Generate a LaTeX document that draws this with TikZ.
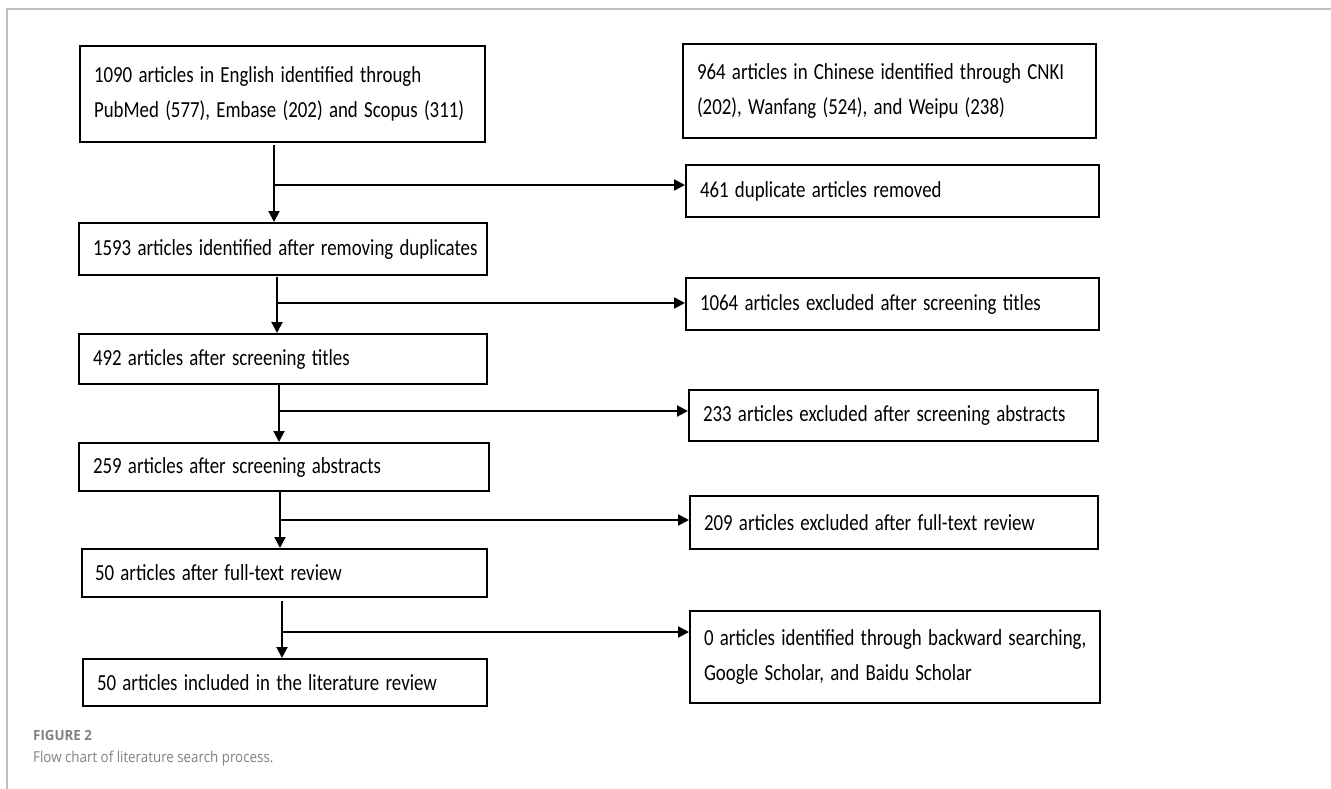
\documentclass[tikz,border=0pt]{standalone}
\usepackage{fontspec}
\setmainfont{Carlito}
\newfontfamily\capfont{Open Sans}
\newcommand{\sq}[1]{\scalebox{0.82}[1]{#1}}
\usetikzlibrary{arrows.meta,calc}
\tikzset{
  box/.style={draw=black, line width=2pt, anchor=north west, inner ysep=0pt,
    inner xsep=14pt, align=left, font=\fontsize{23}{35}\selectfont},
  arr/.style={line width=2pt, -{Triangle[length=11pt,width=11pt]}},
  frame/.style={draw=black!25, line width=1.2pt},
  capt/.style={anchor=west, inner sep=0pt, text=black!50}
}
\begin{document}
\begin{tikzpicture}[x=1pt,y=-1pt]
\useasboundingbox (0,0) rectangle (1331,789);
\draw[frame] (7,789) -- (7,9) -- (1331,9);
% main column
\node[box, text width=377pt, minimum height=96pt] (A) at (79,45)
  {\sq{1090 articles in English identified through}\\\sq{PubMed (577), Embase (202) and Scopus (311)}};
\node[box, text width=385pt, minimum height=94pt] (B) at (682,43)
  {\sq{964 articles in Chinese identified through CNKI}\\\sq{(202), Wanfang (524), and Weipu (238)}};
\node[box, text width=380pt, minimum height=52pt] (B2) at (78,222)
  {\sq{1593 articles identified after removing duplicates}};
\node[box, text width=380pt, minimum height=50pt] (B3) at (78,333)
  {\sq{492 articles after screening titles}};
\node[box, text width=382pt, minimum height=48pt] (B4) at (78,442)
  {\sq{259 articles after screening abstracts}};
\node[box, text width=379pt, minimum height=48pt, inner xsep=13pt] (B5) at (81,548)
  {\sq{50 articles after full-text review}};
\node[box, text width=376pt, minimum height=47pt] (B6) at (82,658)
  {\sq{50 articles included in the literature review}};
% side column
\node[box, text width=385pt, minimum height=52pt] (D1) at (685,164)
  {\sq{461 duplicate articles removed}};
\node[box, text width=385pt, minimum height=52pt] (D2) at (685,277)
  {\sq{1064 articles excluded after screening titles}};
\node[box, text width=381pt, minimum height=51pt] (D3) at (688,389)
  {\sq{233 articles excluded after screening abstracts}};
\node[box, text width=380pt, minimum height=53pt] (D4) at (689,495)
  {\sq{209 articles excluded after full-text review}};
\node[box, text width=382pt, minimum height=92pt] (D5) at (689,610)
  {\sq{0 articles identified through backward searching,}\\\sq{Google Scholar, and Baidu Scholar}};
% connectors
\coordinate (j1) at (274,185);
\coordinate (j2) at (277,303);
\coordinate (j3) at (279,411);
\coordinate (j4) at (280,520);
\coordinate (j5) at (282,632);
\draw[arr] ($(j1 |- A.south)+(0,2)$) -- (j1 |- B2.north);
\draw[arr] (j1) -- (j1 -| D1.west);
\draw[arr] ($(j2 |- B2.south)+(0,1)$) -- (j2 |- B3.north);
\draw[arr] (j2) -- (j2 -| D2.west);
\draw[arr] (j3 |- B3.south) -- (j3 |- B4.north);
\draw[arr] (j3) -- (j3 -| D3.west);
\draw[arr] (j4 |- B4.south) -- (j4 |- B5.north);
\draw[arr] (j4) -- (j4 -| D4.west);
\draw[arr] ($(j5 |- B5.south)+(0,3)$) -- (j5 |- B6.north);
\draw[arr] (j5) -- (j5 -| D5.west);
% caption
\node[capt, font=\capfont\fontsize{14}{16}\selectfont\bfseries] (cap1) at (33,735) {\scalebox{0.95}[1]{FIGURE 2}};
\node[capt, font=\capfont\fontsize{15}{18}\selectfont] (cap2) at (33,759) {\scalebox{0.89}[1]{Flow chart of literature search process.}};
\end{tikzpicture}
\end{document}
